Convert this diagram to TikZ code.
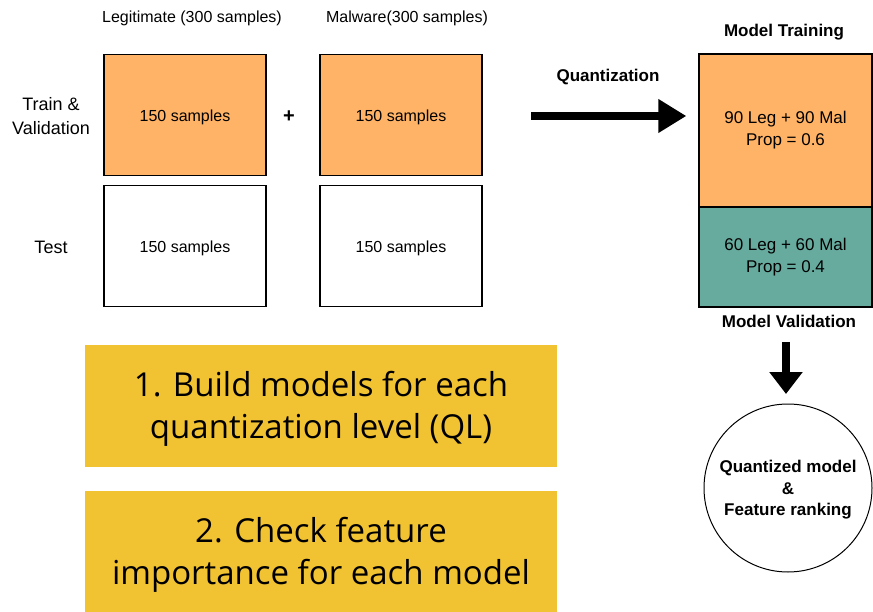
\documentclass[tikz,border=0pt]{standalone}
\usepackage{fontspec}
\setmainfont{Liberation Sans}
\newfontfamily\opensans{Open Sans}
\usetikzlibrary{arrows.meta}
\definecolor{sampleorange}{HTML}{FFB366}
\definecolor{valteal}{HTML}{67AB9F}
\definecolor{stepyellow}{HTML}{F1C232}
\begin{document}
\begin{tikzpicture}[x=1pt,y=-1pt,
  samplebox/.style={draw=black, line width=1.3pt, minimum width=162pt, minimum height=121pt, inner sep=0pt},
  sampletext/.style={font=\fontsize{16}{19}\selectfont},
  splitbox/.style={draw=black, line width=1.3pt, minimum width=173pt, inner sep=0pt, align=center, font=\fontsize{17}{22}\selectfont},
  stepbox/.style={fill=stepyellow, minimum width=472pt, inner sep=0pt},
  steptext/.style={align=center, font=\opensans\fontsize{33}{42}\selectfont},
  plainlabel/.style={font=\fontsize{16}{19}\selectfont},
  sidelabel/.style={align=center, font=\fontsize{18}{24}\selectfont},
  boldlabel/.style={font=\bfseries\fontsize{17}{19}\selectfont},
  bigarrow/.style={line width=8pt, -{Triangle[length=28pt,width=32pt]}}
]
\useasboundingbox (0,0) rectangle (873,612);

% column headers
\node[plainlabel] (hlegit) at (192,18) {Legitimate (300 samples)};
\node[plainlabel] (hmal) at (407,18) {Malware(300 samples)};

% row labels
\node[sidelabel] (rtrain) at (51,116) {Train \&\\Validation};
\node[sidelabel] (rtest) at (51,247) {Test};

% sample boxes
\node[samplebox, fill=sampleorange] (legtrain) at (185,115) {};
\node[samplebox, fill=white] (legtest) at (185,246) {};
\node[samplebox, fill=sampleorange] (maltrain) at (401,115) {};
\node[samplebox, fill=white] (maltest) at (401,246) {};
\node[sampletext] (tlegtrain) at (185,117) {150 samples};
\node[sampletext] (tlegtest) at (185,248) {150 samples};
\node[sampletext] (tmaltrain) at (401,117) {150 samples};
\node[sampletext] (tmaltest) at (401,248) {150 samples};
\node[font=\bfseries\fontsize{20}{20}\selectfont] (plus) at (289,117) {+};

% split into training / validation
\node[splitbox, fill=sampleorange, minimum height=153pt] (train) at (785.5,130.5) {90 Leg + 90 Mal\\Prop = 0.6};
\node[splitbox, fill=valteal, minimum height=100pt] (valid) at (785.5,257) {60 Leg + 60 Mal\\Prop = 0.4};
\node[boldlabel] (ltrain) at (784,32) {Model Training};
\node[boldlabel] (lvalid) at (789,321) {Model Validation};

% quantization arrow
\coordinate (qstart) at (531,116);
\draw[bigarrow, shorten >=12pt] (qstart) -- (qstart -| train.west);
\node[boldlabel] (lquant) at (608,77) {Quantization};

% result circle
\node[circle, draw=black, line width=1pt, minimum size=168pt, inner sep=0pt] (result) at (788,488) {};
\node[align=center, font=\bfseries\fontsize{17}{21.5}\selectfont] (tresult) at (788,490) {Quantized model\\\&\\Feature ranking};
\coordinate (dstart) at (786,342);
\draw[line width=8pt, -{Triangle[length=22pt,width=32pt]}] (dstart) -- (786,394);

% step boxes
\node[stepbox, minimum height=122pt] (step1) at (321,406) {};
\node[stepbox, minimum height=121pt] (step2) at (321,551.5) {};
\node[steptext] (tstep1) at (321,409) {1. Build models for each\\quantization level (QL)};
\node[steptext] (tstep2) at (321,554.5) {2. Check feature\\importance for each model};
\end{tikzpicture}
\end{document}
